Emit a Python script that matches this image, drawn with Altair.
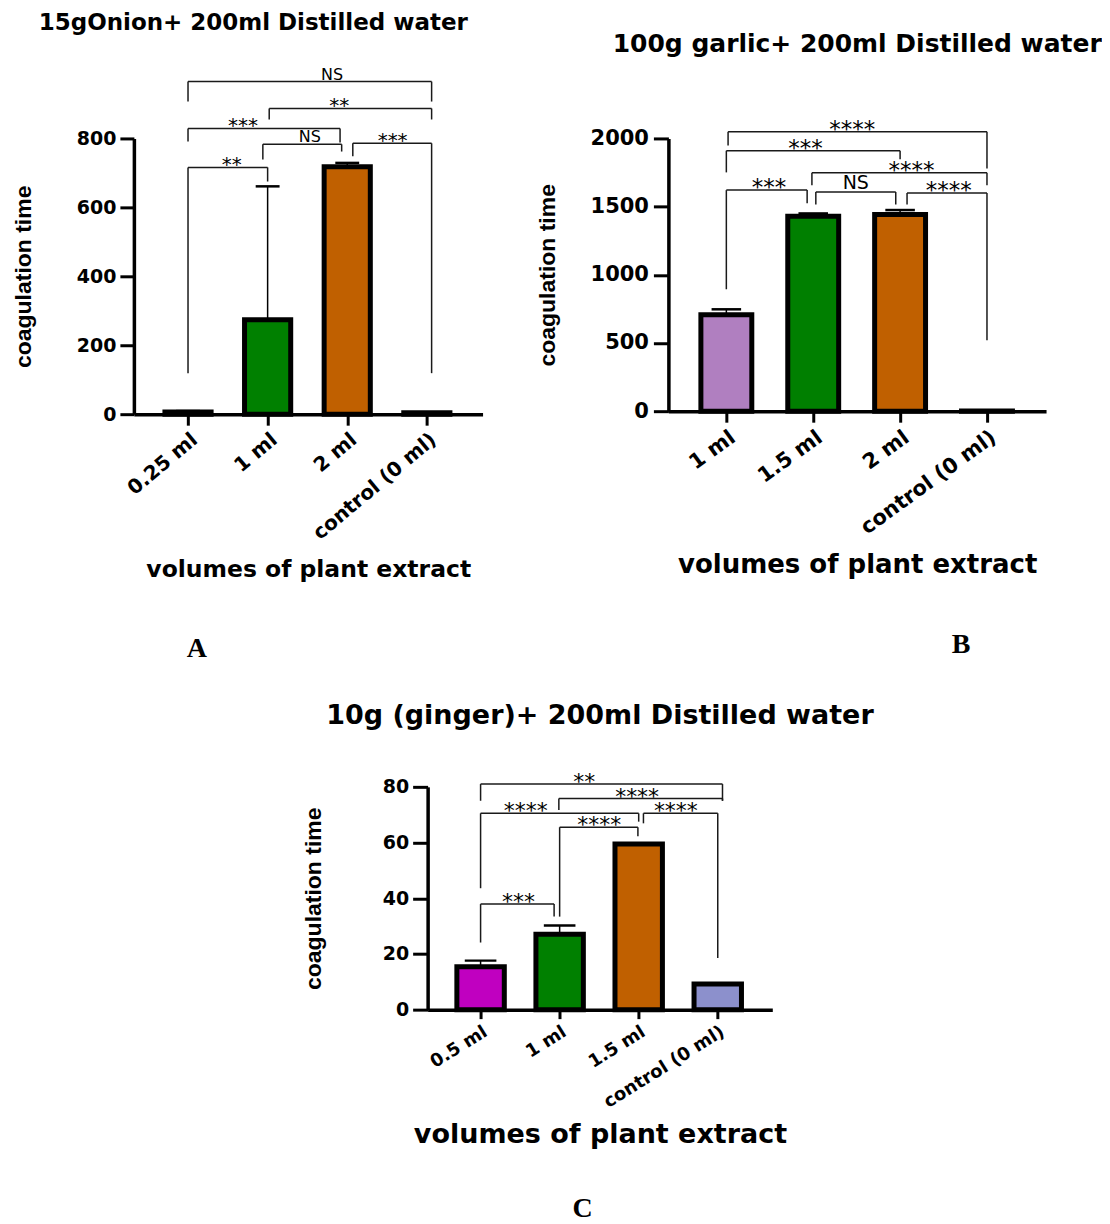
import json
import pandas as pd
import altair as alt

# ---------------- Panel A: onion ----------------
a_title = "15gOnion+ 200ml Distilled water"
a_groups = ["0.25 ml", "1 ml", "2 ml", "control (0 ml)"]
a_means = [6, 274, 718, 4]
a_sd = [3, 387, 11, 1]
a_colors = ["#8c8c8c", "#008000", "#C06000", "#8c8c8c"]
a_br_from = [0.0, 0.94, 2.07, 0.0, 1.02, 0.0]
a_br_to = [1.0, 1.93, 3.06, 1.91, 3.06, 3.06]
a_br_y = [716, 783, 786, 829, 887, 965]
a_br_leg_from = [119, 739, 748, 791, 855, 907]
a_br_leg_to = [675, 762, 119, 788, 855, 907]
a_br_text = ["**", "NS", "***", "***", "**", "NS"]
a_br_text_x = [0.55, 1.53, 2.57, 0.69, 1.90, 1.81]
a_yticks = [0, 200, 400, 600, 800]

# ---------------- Panel B: garlic ----------------
b_title = "100g garlic+ 200ml Distilled water"
b_groups = ["1 ml", "1.5 ml", "2 ml", "control (0 ml)"]
b_means = [707, 1429, 1443, 2]
b_sd = [40, 21, 32, 0]
b_colors = ["#B07FC0", "#007F00", "#C06000", "#808080"]
b_br_from = [0.0, 1.03, 2.08, 0.985, 0.0, 0.02]
b_br_to = [0.93, 1.95, 3.0, 3.0, 2.0, 3.0]
b_br_y = [1621, 1607, 1599, 1749, 1910, 2049]
b_br_leg_from = [894, 1516, 1516, 1656, 1751, 1949]
b_br_leg_to = [1524, 1516, 520, 1656, 1848, 1780]
b_br_text = ["***", "NS", "****", "****", "***", "****"]
b_br_text_x = [0.49, 1.49, 2.56, 2.13, 0.91, 1.45]
b_yticks = [0, 500, 1000, 1500, 2000]

# ---------------- Panel C: ginger ----------------
c_title = "10g (ginger)+ 200ml Distilled water"
c_groups = ["0.5 ml", "1 ml", "1.5 ml", "control (0 ml)"]
c_means = [15.4, 27.1, 59.5, 9.2]
c_sd = [2.2, 3.1, 0, 0]
c_colors = ["#C000C0", "#008000", "#C06000", "#8C90CC"]
c_br_from = [0.0, 1.0, 0.0, 2.06, 0.99, 0.0]
c_br_to = [0.93, 1.99, 2.0, 3.0, 3.06, 3.06]
c_br_y = [37.9, 65.5, 70.5, 70.5, 75.8, 81.0]
c_br_leg_from = [24.1, 33.4, 43.6, 66.9, 71.7, 75.0]
c_br_leg_to = [33.4, 62.3, 67.5, 18.5, 75.0, 75.0]
c_br_text = ["***", "****", "****", "****", "****", "**"]
c_br_text_x = [0.48, 1.50, 0.57, 2.47, 1.98, 1.31]
c_yticks = [0, 20, 40, 60, 80]

Y_TITLE = "coagulation time"
X_TITLE = "volumes of plant extract"


def panel(groups, means, sd, colors, br_from, br_to, br_y, br_lf, br_lt,
          br_txt, br_tx, yticks, title, letter, st):
    idx = list(range(len(groups)))
    bars = pd.DataFrame({"g": groups, "i": idx, "mean": means, "sd": sd, "color": colors})
    bars["lo"] = bars["i"] - st["half"]
    bars["hi"] = bars["i"] + st["half"]
    bars["base"] = 0
    bars["top"] = bars["mean"] + bars["sd"]
    bars["clo"] = bars["i"] - st["cap"]
    bars["chi"] = bars["i"] + st["cap"]
    err = bars[bars["sd"] > 0]

    segs = []
    for a, b, y, lf, lt in zip(br_from, br_to, br_y, br_lf, br_lt):
        segs.append({"x": a, "x2": b, "y": y, "y2": y})
        segs.append({"x": a, "x2": a, "y": y, "y2": lf})
        segs.append({"x": b, "x2": b, "y": y, "y2": lt})
    segs = pd.DataFrame(segs)
    labs = pd.DataFrame({"x": br_tx, "y": br_y, "t": br_txt})

    xs = alt.Scale(domain=st["xdom"], nice=False, zero=False)
    ys = alt.Scale(domain=[0, yticks[-1]], nice=False, zero=False)
    xaxis = alt.Axis(
        values=idx, labelExpr=json.dumps(groups) + "[datum.value]",
        labelAngle=st["xang"], labelAlign="right", labelBaseline="top",
        labelFont="DejaVu Sans", labelFontWeight="bold", labelFontSize=st["xfs"],
        labelColor="black", labelPadding=st["xlp"], labelFlush=False, labelOverlap=False,
        tickSize=st["xtick"], tickWidth=3, tickColor="black",
        domainColor="black", domainWidth=3.5, grid=False,
        title=X_TITLE, titleFont="DejaVu Sans", titleFontWeight="bold",
        titleFontSize=st["xtfs"], titleColor="black", titleY=st["xty"],
        titleBaseline="alphabetic")
    yaxis = alt.Axis(
        values=yticks, format="d",
        labelFont="DejaVu Sans", labelFontWeight="bold", labelFontSize=st["yfs"],
        labelColor="black", labelPadding=st["ylp"], labelFlush=False,
        tickSize=st["ytick"], tickWidth=3, tickColor="black",
        domainColor="black", domainWidth=3.5, grid=False,
        title=Y_TITLE, titleFont="Liberation Sans", titleFontWeight="bold",
        titleFontSize=23, titleColor="black", titleX=st["ytx"], titleY=st["h"] / 2,
        titleBaseline="middle", titleAngle=270)

    def X(f):
        return alt.X(f, type="quantitative", scale=xs, axis=xaxis)

    def Y(f):
        return alt.Y(f, type="quantitative", scale=ys, axis=yaxis)

    rect = alt.Chart(bars).mark_rect(stroke="black", strokeWidth=5).encode(
        x=X("lo"), x2="hi", y=Y("base"), y2="mean",
        color=alt.Color("color:N", scale=None))
    stems = alt.Chart(err).mark_rule(color="black", strokeWidth=1.5).encode(
        x=X("i"), y=Y("mean"), y2="top")
    caps = alt.Chart(err).mark_rule(color="black", strokeWidth=2.5).encode(
        x=X("clo"), x2="chi", y=Y("top"))
    rules = alt.Chart(segs).mark_rule(color="#1a1a1a", strokeWidth=1.5).encode(
        x=X("x"), x2="x2", y=Y("y"), y2="y2")
    ast = alt.Chart(labs).transform_filter("datum.t != 'NS'").mark_text(
        font="DejaVu Sans", fontSize=st["afs"], baseline="alphabetic",
        dy=st["ady"], color="black").encode(x=X("x"), y=Y("y"), text="t:N")
    ns = alt.Chart(labs).transform_filter("datum.t == 'NS'").mark_text(
        font="DejaVu Sans", fontSize=st["nfs"], baseline="alphabetic",
        dy=st["ndy"], color="black").encode(x=X("x"), y=Y("y"), text="t:N")
    let = alt.Chart(pd.DataFrame({"t": [letter]})).mark_text(
        font="Liberation Serif", fontWeight="bold", fontSize=28, color="black").encode(
        x=alt.value(st["lx"]), y=alt.value(st["ly"]), text="t:N")

    return alt.layer(rect, stems, caps, rules, ast, ns, let).properties(
        width=st["w"], height=st["h"],
        title=alt.Title(title, font="DejaVu Sans", fontWeight="bold",
                        fontSize=st["tfs"], color="black", anchor="middle",
                        frame="group", offset=st["toff"], dx=st["tdx"]))


stA = dict(w=349, h=276, xdom=[-0.68, 3.70], half=0.29, cap=0.15,
           xang=320, xfs=20, xlp=4, xtick=11, xtfs=23.5, xty=162,
           yfs=19, ylp=4, ytick=14, ytx=-110,
           afs=20, ady=4, nfs=16, ndy=-2,
           tfs=23, toff=32, tdx=-55, lx=63, ly=511)
stB = dict(w=378, h=273, xdom=[-0.667, 3.68], half=0.293, cap=0.17,
           xang=324, xfs=21, xlp=4, xtick=11, xtfs=26, xty=161,
           yfs=21, ylp=5, ytick=15, ytx=-121,
           afs=23, ady=5, nfs=19, ndy=-3,
           tfs=25, toff=62, tdx=0, lx=293, ly=507)
stC = dict(w=345, h=223, xdom=[-0.67, 3.69], half=0.30, cap=0.2,
           xang=328, xfs=18, xlp=4, xtick=9, xtfs=27, xty=133,
           yfs=19, ylp=4, ytick=15, ytx=-114,
           afs=22, ady=5, nfs=19, ndy=-3,
           tfs=27, toff=41, tdx=0, lx=155, ly=423)

pA = panel(a_groups, a_means, a_sd, a_colors, a_br_from, a_br_to, a_br_y,
           a_br_leg_from, a_br_leg_to, a_br_text, a_br_text_x, a_yticks, a_title, "A", stA)
pB = panel(b_groups, b_means, b_sd, b_colors, b_br_from, b_br_to, b_br_y,
           b_br_leg_from, b_br_leg_to, b_br_text, b_br_text_x, b_yticks, b_title, "B", stB)
pC = panel(c_groups, c_means, c_sd, c_colors, c_br_from, c_br_to, c_br_y,
           c_br_leg_from, c_br_leg_to, c_br_text, c_br_text_x, c_yticks, c_title, "C", stC)

spacer = alt.Chart(pd.DataFrame({"s": [0]})).mark_point(opacity=0).properties(width=294, height=10)

top_row = alt.hconcat(pA, pB, spacing=186, bounds="flush")
bottom_row = alt.hconcat(spacer, pC, spacing=0, bounds="flush")

chart = alt.vconcat(top_row, bottom_row, spacing=39, bounds="full").configure_view(
    stroke=None
).properties(padding={"left": 5, "top": 3, "right": 0, "bottom": 0})

chart.save("out.html", embed_options={"renderer": "svg", "actions": False})
